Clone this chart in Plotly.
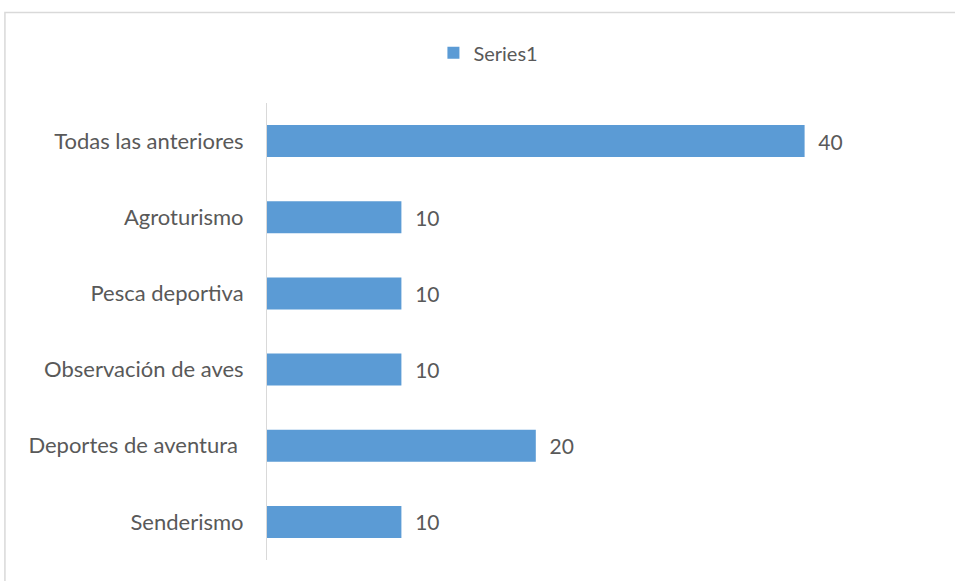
import plotly.graph_objects as go

categories = ["Senderismo", "Deportes de aventura\u00a0", "Observación de aves",
              "Pesca deportiva", "Agroturismo", "Todas las anteriores"]
values = [10, 20, 10, 10, 10, 40]
series_name = "Series1"

FONT = "Lato, Calibri, 'Open Sans', sans-serif"
GREY = "#595959"

fig = go.Figure()
fig.add_trace(go.Bar(
    y=categories, x=values, orientation="h", name=series_name,
    marker=dict(color="#5B9BD5", line=dict(width=0)),
    texttemplate="\u00a0\u00a0%{x}", textposition="outside",
    textfont=dict(family=FONT, size=21, color=GREY),
    cliponaxis=False,
))

fig.update_layout(
    width=955, height=581,
    margin=dict(l=267, r=16, t=103, b=21),
    paper_bgcolor="white", plot_bgcolor="white",
    bargap=0.58,
    showlegend=True,
    legend=dict(orientation="h", x=0.3295, xanchor="center", y=1.11, yanchor="middle",
                font=dict(family=FONT, size=20, color=GREY), itemwidth=30),
    xaxis=dict(range=[0, 50], visible=False, fixedrange=True),
    yaxis=dict(showline=True, linecolor="#d9d9d9", linewidth=1, ticks="",
               showgrid=False, ticklabelstandoff=18,
               tickfont=dict(family=FONT, size=22, color=GREY)),
    shapes=[dict(type="rect", xref="paper", yref="paper",
                 x0=-0.39, x1=1.2, y0=-0.2, y1=1.198,
                 line=dict(color="#d9d9d9", width=1.5), layer="below")],
)

fig.write_html("out.html", config={"displayModeBar": False},
               post_script="document.body.style.margin='0';")
